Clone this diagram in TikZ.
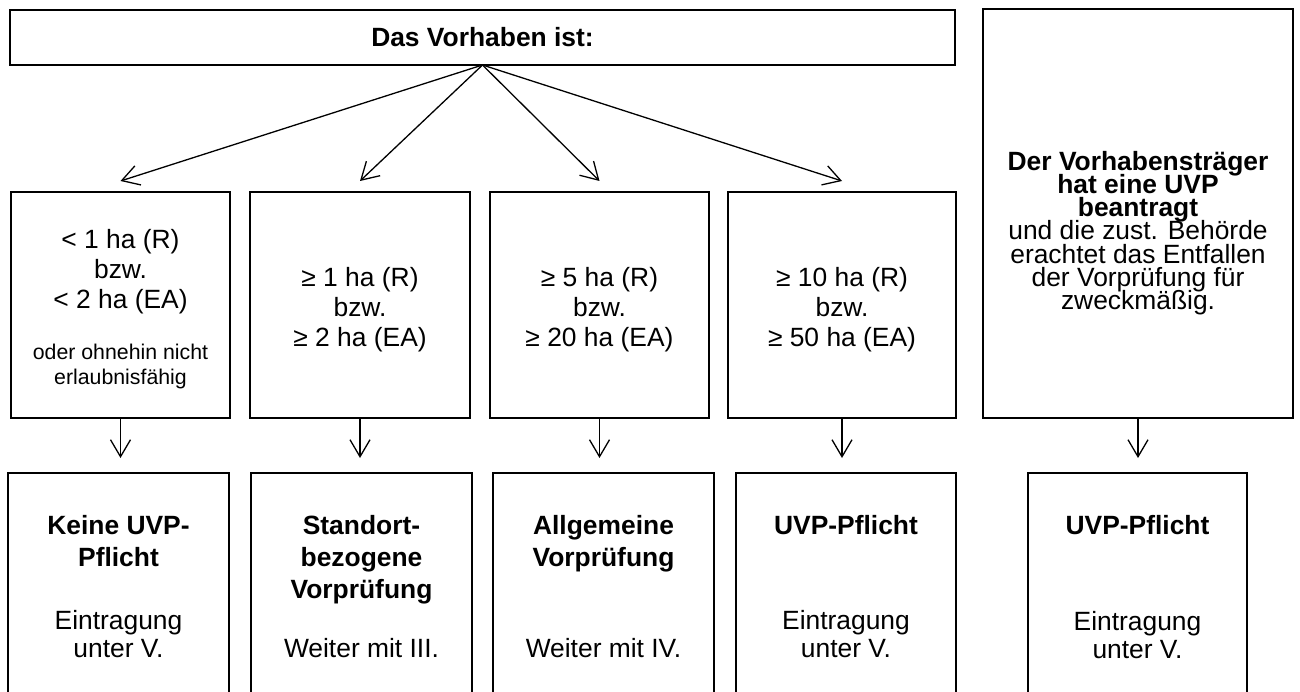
\documentclass[tikz,border=0pt]{standalone}
\usepackage{fontspec}
\setmainfont{Liberation Sans}
\usetikzlibrary{arrows.meta}
\usetikzlibrary{calc}
\usetikzlibrary{positioning}
\newcommand{\tightlines}{\lineskiplimit=-30pt\relax}

\begin{document}
\begin{tikzpicture}[x=1pt, y=-1pt]
  \pgfmathsetmacro{\YMID}{305}
  \pgfmathsetmacro{\YBOT}{596.5}
\tikzset{
  box/.style={draw, line width=2pt, inner sep=0pt, outer sep=0pt, align=center,
    font=\fontsize{26.4}{30}\selectfont},
  midbox/.style={box, minimum width=#1, minimum height=226pt},
  botbox/.style={box, minimum width=#1, minimum height=247pt},
  txt/.style={align=center, inner sep=0pt, font=\fontsize{26.4}{30}\selectfont},
  small/.style={align=center, inner sep=0pt, font=\fontsize{21.3}{25}\selectfont},
  title/.style={align=center, inner sep=0pt, font=\bfseries\fontsize{26.4}{32}\selectfont},
  note/.style={align=center, inner sep=0pt, font=\fontsize{26.4}{28}\selectfont},
  tight/.style={align=center, inner sep=0pt, font={\fontsize{26.4}{23.2}\selectfont\tightlines}},
  arr/.style={->, line width=1.3pt},
}
%
\tikzset{>={Straight Barb[length=17pt, width=20pt]}}

       \useasboundingbox (0,0) rectangle (1300,692);

       \node [box, minimum width=945pt, minimum height=55pt,
       font=\bfseries\fontsize{26.4}{30}\selectfont] (top) at (482.5, 37.5)
       {Das Vorhaben ist:};

       % middle row
       \node [midbox=219pt] (m1) at (120.5, \YMID) {};
       \node [midbox=220pt] (m2) at (360, \YMID) {};
       \node [midbox=219pt] (m3) at (599.5, \YMID) {};
       \node [midbox=228pt] (m4) at (842, \YMID) {};

       \node [txt] (m1t) at (120.5, 272) {< 1 ha (R)\\bzw.\\< 2 ha (EA)};
       \node [small] (m1s) at ($(m1t) + (0, 94)$)
       {oder ohnehin nicht\\erlaubnisfähig};
       \node [txt] (m2t) at ($(m2) + (0, 4.6)$) {≥ 1 ha (R)\\bzw.\\≥ 2 ha (EA)};
       \node [txt] (m3t) at ($(m3) + (0, 4.6)$) {≥ 5 ha (R)\\bzw.\\≥ 20 ha (EA)};
       \node [txt] (m4t) at ($(m4) + (0, 4.6)$) {≥ 10 ha (R)\\bzw.\\≥ 50 ha (EA)};

       \node [box, minimum width=310pt, minimum height=409pt] (r) at (1138, 213.5) {};
       \node [tight] (rt) at (1138, 233)
       {\textbf{Der Vorhabensträger}\\ \textbf{hat eine UVP}\\ \textbf{beantragt}\\
         und die zust. Behörde\\ erachtet das Entfallen\\ der Vorprüfung für\\ zweckmäßig.};

       % bottom row
       \node [botbox=221pt] (b1) at (118.5, \YBOT) {};
       \node [botbox=221pt] (b2) at (361.5, \YBOT) {};
       \node [botbox=221pt] (b3) at (603.5, \YBOT) {};
       \node [botbox=220pt] (b4) at (846, \YBOT) {};
       \node [botbox=219pt] (b5) at (1137.5, \YBOT) {};

       \node [title] (b1t) at (118.5, 541) {Keine UVP-\\Pflicht};
       \node [note] (b1n) at (118.5, 634) {Eintragung\\unter V.};
       \node [title] (b2t) at (361.5, 559.5) {Standort-\\bezogene\\Vorprüfung};
       \node [note] (b2n) at (361.5, 648) {Weiter mit III.};
       \node [title] (b3t) at (603.5, 543.5) {Allgemeine\\Vorprüfung};
       \node [note] (b3n) at (603.5, 648) {Weiter mit IV.};
       \node [title] (b4t) at (846, 525) {UVP-Pflicht};
       \node [note] (b4n) at (846, 634) {Eintragung\\unter V.};
       \node [title] (b5t) at (1137.5, 525) {UVP-Pflicht};
       \node [note] (b5n) at (1137.5, 635) {Eintragung\\unter V.};

       \foreach \m in {m1, m2, m3, m4}
         \draw[arr] (top.south) -- ($(\m.north) + (0, -11)$);

       \foreach \m/\b in {m1/b1, m2/b2, m3/b3, m4/b4, r/b5}
         \draw[arr] (\m.south) -- ($(\m.south |- \b.north) + (0, -15)$);

\end{tikzpicture}
\end{document}
